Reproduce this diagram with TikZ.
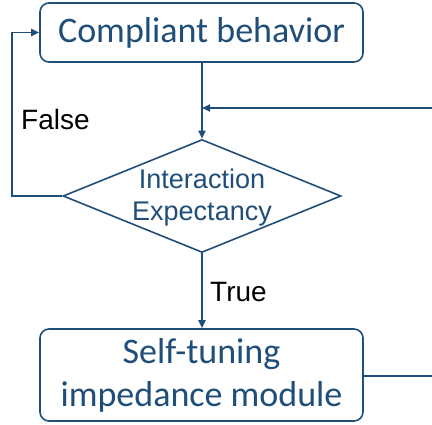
\documentclass[tikz,border=0pt]{standalone}
\usepackage{fontspec}
\setmainfont{Carlito}
\newfontfamily\arialish{Liberation Sans}
\usetikzlibrary{shapes.geometric,arrows.meta}
\definecolor{flowblue}{RGB}{31,78,121}
\tikzset{
  flowline/.style={draw=flowblue, line width=1.8pt},
  flowarrow/.style={flowline, -{Triangle[length=8pt,width=7pt]}},
  procbox/.style={draw=flowblue, line width=1.6pt, rounded corners=9pt, fill=white,
    text=flowblue, align=center, inner sep=0pt,
    minimum width=323pt, font=\fontsize{36}{43}\selectfont},
  decision/.style={diamond, draw=flowblue, line width=1.6pt, inner sep=0pt,
    minimum width=278pt, minimum height=113pt},
  dectext/.style={text=flowblue, align=center, inner sep=0pt,
    font=\arialish\fontsize{27}{32}\selectfont},
  branchlabel/.style={anchor=base west, inner sep=0pt,
    font=\arialish\fontsize{28}{32}\selectfont}
}
\begin{document}
\begin{tikzpicture}[x=1pt,y=-1pt]
  \useasboundingbox (0,0) rectangle (432,424);

  % process boxes
  \node[procbox, minimum height=59pt] (cb) at (201.5,32.5) {Compliant behavior};
  \node[procbox, minimum height=92pt] (st) at (201.5,375) {Self-tuning\\impedance module};

  % decision
  \node[decision] (dec) at (202,196) {};
  \node[dectext] (dectxt) at (202,198) {Interaction\\Expectancy};

  % helper points
  \coordinate (join) at (202,108);
  \coordinate (feedin) at (432,108);
  \coordinate (feedout) at (432,376);
  \coordinate (loopcorner) at (12,196);

  % connectors
  \draw[flowarrow] (cb.south -| dec.north) -- (dec.north);
  \draw[flowarrow] (feedin) -- (join);
  \draw[flowarrow] (dec.south) -- (st.north -| dec.south);
  \draw[flowline] (st.east |- feedout) -- (feedout);
  \draw[flowarrow] (dec.west) -- (loopcorner) |- (cb.west);

  % branch labels
  \node[branchlabel] (lblfalse) at (21,129.5) {False};
  \node[branchlabel] (lbltrue) at (210,301.7) {True};
\end{tikzpicture}
\end{document}
